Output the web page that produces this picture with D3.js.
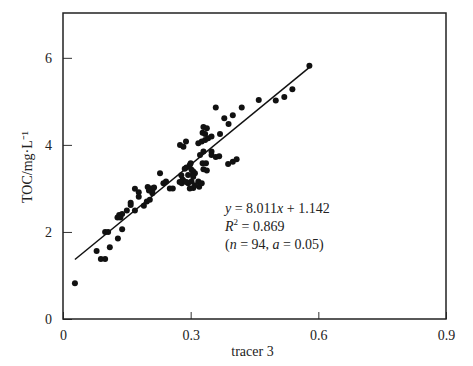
<!DOCTYPE html>
<html><head><meta charset="utf-8">
<script src="https://cdn.jsdelivr.net/npm/d3@7"></script>
<style>body{margin:0;background:#fff}svg{display:block}text{font-family:"Liberation Serif","Times New Roman",serif;fill:#222}</style>
</head><body><svg id="c" width="473" height="366"></svg>
<script>
const xTicks = [0, 0.3, 0.6, 0.9];
const yTicks = [0, 2, 4, 6];
const xLabel = "tracer 3";
const yLabel = "TOC/mg·L⁻¹";
const fitSlope = 8.011, fitIntercept = 1.142;
const fitRange = [0.028, 0.579];
const annot = ["y = 8.011x + 1.142", "R² = 0.869", "(n = 94, a = 0.05)"];
const tracer = [0.028,0.079,0.089,0.099,0.110,0.099,0.106,0.129,0.139,0.128,0.132,0.139,0.135,0.150,0.159,0.159,0.169,0.169,0.178,0.178,
0.190,0.199,0.207,0.210,0.204,0.197,0.210,0.202,0.214,0.228,0.236,0.242,0.251,0.258,0.279,0.281,0.275,0.283,0.289,0.298,
0.302,0.306,0.294,0.294,0.302,0.298,0.320,0.318,0.326,0.318,0.326,0.334,0.341,0.349,0.330,0.338,0.328,0.334,0.369,0.349,
0.330,0.322,0.349,0.359,0.367,0.388,0.399,0.408,0.328,0.336,0.330,0.338,0.300,0.290,0.286,0.306,0.310,0.306,0.278,0.282,
0.274,0.290,0.306,0.310,0.359,0.379,0.389,0.399,0.420,0.460,0.500,0.520,0.539,0.579];
const toc = [0.82,1.56,1.38,1.38,1.65,2.00,2.00,1.85,2.06,2.33,2.39,2.41,2.33,2.49,2.67,2.62,2.49,2.99,2.91,2.81,
2.60,3.03,3.00,2.89,2.74,2.70,2.95,2.95,3.02,3.35,3.12,3.16,3.00,3.00,3.12,3.20,4.00,3.96,4.08,3.54,
3.43,3.35,3.31,3.12,3.16,3.00,3.04,3.16,3.12,4.04,4.08,4.11,4.15,4.19,4.41,4.38,4.28,4.25,4.25,3.85,
3.85,3.77,3.77,3.72,3.74,3.56,3.61,3.67,3.58,3.58,3.44,3.41,3.58,3.48,3.45,3.39,3.35,3.27,3.30,3.19,
3.15,3.15,3.01,3.07,4.86,4.61,4.48,4.68,4.86,5.03,5.02,5.10,5.28,5.82];

const svg = d3.select("#c");
const L=63, R=446, T=13, B=319;
const x = d3.scaleLinear().domain([0,0.9]).range([L,R]);
const y = d3.scaleLinear().domain([0,7.03]).range([B,T]);

// ticks inward
const xa = svg.append("g").attr("transform",`translate(0,${B})`)
  .call(d3.axisBottom(x).tickValues(xTicks).tickSize(-7).tickPadding(11).tickFormat(d=>d===0?"0":d3.format(".1f")(d)));
const ya = svg.append("g").attr("transform",`translate(${L},0)`)
  .call(d3.axisLeft(y).tickValues(yTicks).tickSize(-9).tickPadding(11).tickFormat(d3.format("d")));
[xa,ya].forEach(g=>{g.select(".domain").remove();g.selectAll("line").attr("stroke","#333").attr("stroke-width",1);
  g.selectAll("text").attr("font-size",14).attr("fill","#222").attr("font-family","Liberation Serif");});

svg.append("rect").attr("x",L).attr("y",T).attr("width",R-L).attr("height",B-T)
  .attr("fill","none").attr("stroke","#222").attr("stroke-width",1.5);

svg.append("text").attr("x",(L+R)/2-2).attr("y",356).attr("text-anchor","middle").attr("font-size",14).text(xLabel);
svg.append("text").attr("transform","translate(32,167) rotate(-90)").attr("text-anchor","middle").attr("font-size",14).text(yLabel);

svg.append("line").attr("x1",x(fitRange[0])).attr("y1",y(fitSlope*fitRange[0]+fitIntercept))
  .attr("x2",x(fitRange[1])).attr("y2",y(fitSlope*fitRange[1]+fitIntercept))
  .attr("stroke","#111").attr("stroke-width",1.5);

svg.append("g").selectAll("circle").data(tracer.map((t,i)=>[t,toc[i]])).join("circle")
  .attr("cx",d=>x(d[0])).attr("cy",d=>y(d[1])).attr("r",3).attr("fill","#111");

const a = svg.append("g").attr("font-size",14);
const t1 = a.append("text").attr("x",225).attr("y",213);
t1.append("tspan").attr("font-style","italic").text("y");
t1.append("tspan").text(" = 8.011");
t1.append("tspan").attr("font-style","italic").text("x");
t1.append("tspan").text(" + 1.142");
const t2 = a.append("text").attr("x",225).attr("y",231);
t2.append("tspan").attr("font-style","italic").text("R");
t2.append("tspan").attr("font-size",9).attr("dy",-6).text("2");
t2.append("tspan").attr("dy",6).text(" = 0.869");
const t3 = a.append("text").attr("x",225).attr("y",249);
t3.append("tspan").text("(");
t3.append("tspan").attr("font-style","italic").text("n");
t3.append("tspan").text(" = 94, ");
t3.append("tspan").attr("font-style","italic").text("a");
t3.append("tspan").text(" = 0.05)");
</script></body></html>
